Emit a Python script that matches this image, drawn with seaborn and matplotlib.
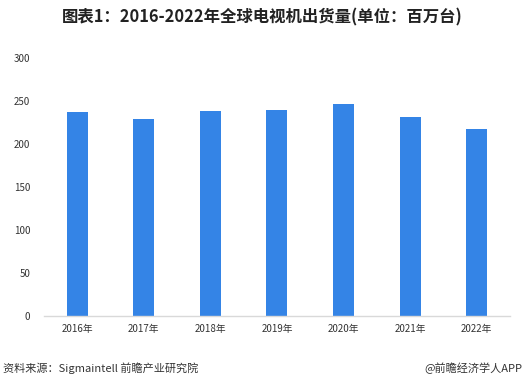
import matplotlib
matplotlib.use("Agg")
import matplotlib.pyplot as plt
import seaborn as sns
import pandas as pd

# data (million units)
years = ["2016年", "2017年", "2018年", "2019年", "2020年", "2021年", "2022年"]
shipments = [237.5, 229.3, 238.6, 239.8, 246.7, 231.7, 217.8]
yticks = [0, 50, 100, 150, 200, 250, 300]

df = pd.DataFrame({"year": years, "shipments": shipments})

sns.set_style("white")
plt.rcParams["font.family"] = ["Noto Sans CJK SC", "DejaVu Sans"]

fig = plt.figure(figsize=(5.24, 3.91), dpi=100)
ax = fig.add_axes([0.084, 0.192, 0.889, 0.660])

sns.barplot(data=df, x="year", y="shipments", color="#3484e6",
            saturation=1, width=0.315, linewidth=0, ax=ax)

ax.set_xlim(-0.5, 6.5)
ax.set_ylim(0, 300)
ax.set_yticks(yticks)
ax.set_xlabel("")
ax.set_ylabel("")
ax.tick_params(axis="both", length=0, labelsize=7, colors="#333333")
ax.tick_params(axis="x", pad=6)
ax.tick_params(axis="y", pad=10)
for s in ["top", "right", "left"]:
    ax.spines[s].set_visible(False)
ax.spines["bottom"].set_color("#d9d9d9")
ax.spines["bottom"].set_linewidth(1)

fig.text(0.5, 0.955, "图表1：2016-2022年全球电视机出货量(单位：百万台)",
         ha="center", va="center", fontsize=11.8, fontweight="bold", color="#222222")
fig.text(0.006, 0.058, "资料来源：Sigmaintell 前瞻产业研究院",
         ha="left", va="center", fontsize=8, color="#333333")
fig.text(0.997, 0.058, "@前瞻经济学人APP",
         ha="right", va="center", fontsize=8, color="#333333")

fig.savefig("out.png", dpi=100)
plt.close(fig)
